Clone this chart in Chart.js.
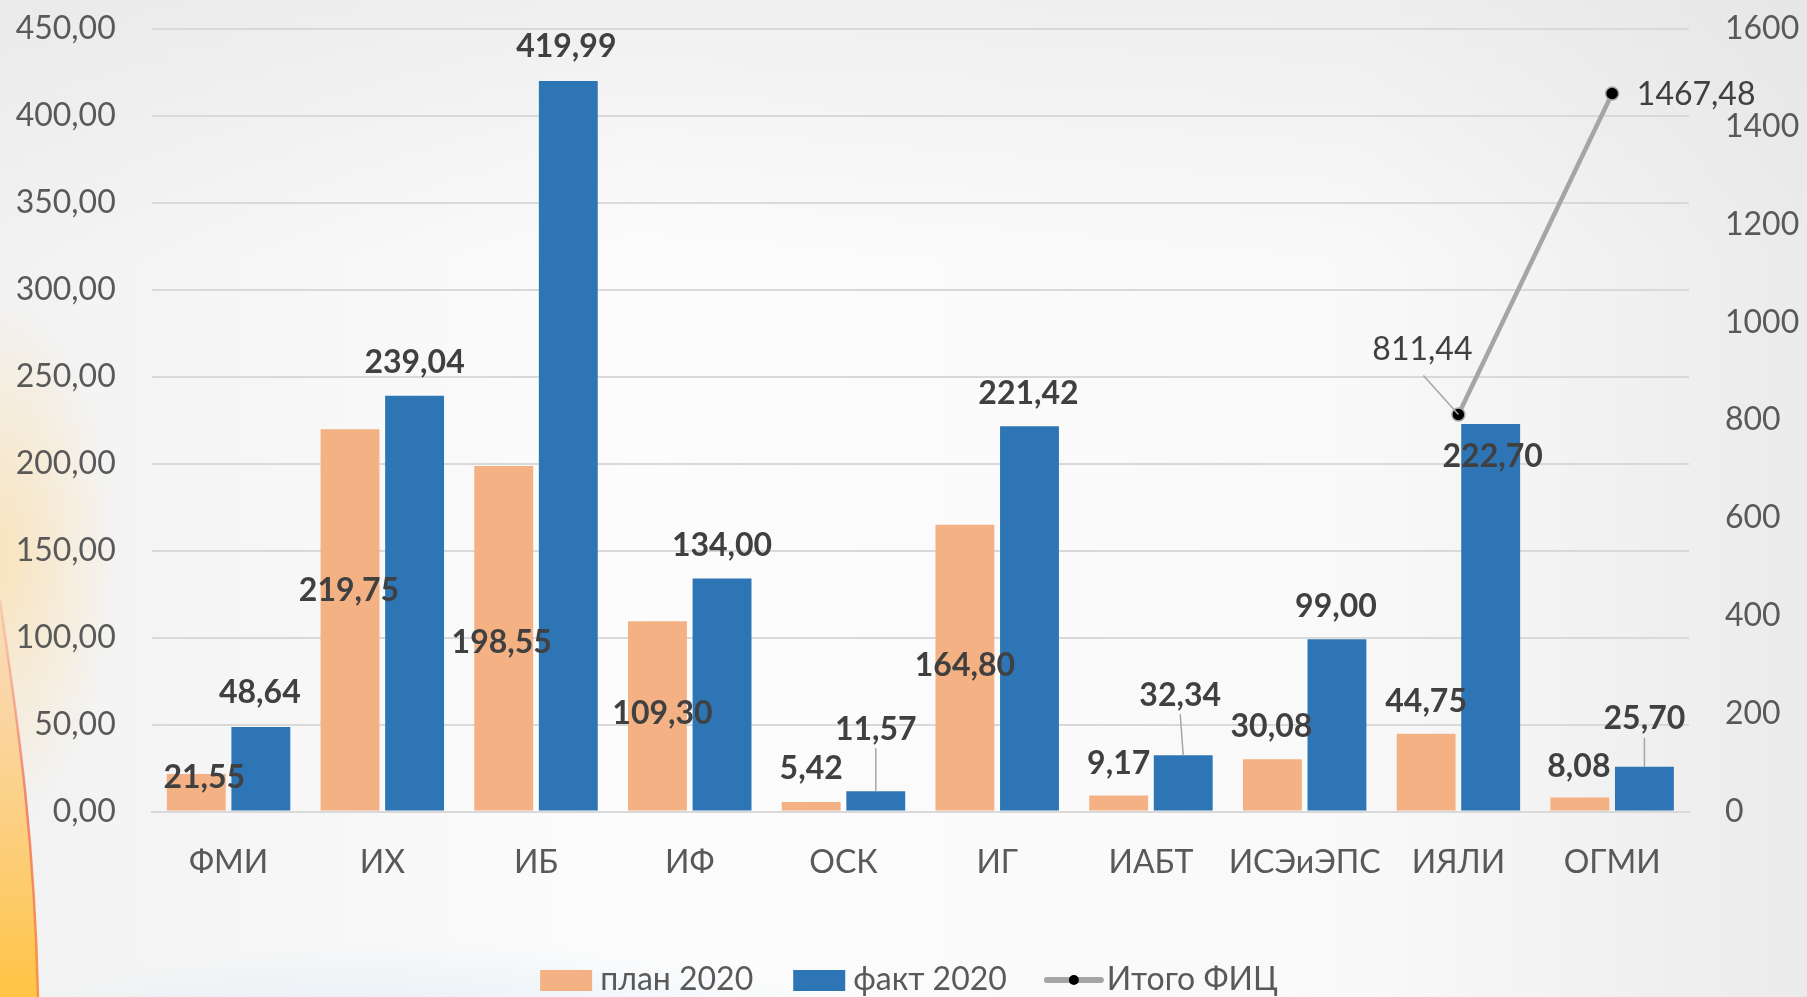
<!DOCTYPE html>
<html>
<head>
<meta charset="utf-8">
<script src="https://cdn.jsdelivr.net/npm/chart.js@4.4.0/dist/chart.umd.min.js"></script>
<style>
  html, body { margin: 0; padding: 0; background: #f7f7f7; }
  .wrap { width: 1807px; height: 997px; position: relative; }
</style>
</head>
<body>
<div class="wrap"><canvas id="finChart"></canvas></div>
<script>
const categories = ['ФМИ', 'ИХ', 'ИБ', 'ИФ', 'ОСК', 'ИГ', 'ИАБТ', 'ИСЭиЭПС', 'ИЯЛИ', 'ОГМИ'];
const plan2020 = [21.55, 219.75, 198.55, 109.30, 5.42, 164.80, 9.17, 30.08, 44.75, 8.08];
const fact2020 = [48.64, 239.04, 419.99, 134.00, 11.57, 221.42, 32.34, 99.00, 222.70, 25.70];
const totalFic = [null, null, null, null, null, null, null, null, 811.44, 1467.48];
const leftAxisTicks = [0, 50, 100, 150, 200, 250, 300, 350, 400, 450];
const rightAxisTicks = [0, 200, 400, 600, 800, 1000, 1200, 1400, 1600];

// where each value label sits, relative to the top of its bar / point (px)
const planLabelShift = [[8, 4], [-1, 161], [-2, 177], [5, 92], [0, -33], [0, 141], [0, -32], [-1, -32], [0, -32], [-1, -31]];
const factLabelShift = [[-1, -34], [0, -33], [-2, -34], [0, -33], [0, -62], [-1, -33], [-3, -60], [-1, -33], [2, 33], [0, -48]];
const totalLabelShift = [null, null, null, null, null, null, null, null, [-36, -65], [84, 1]];

const FONT = 'Lato';
const AXIS_GRAY = '#595959';
const LABEL_DARK = '#404040';
const GRID = '#d9d9d9';

const fmt2 = v => v.toFixed(2).replace('.', ',');

// soft slide-style backdrop with the warm swoosh on the left
const backdrop = {
  id: 'backdrop',
  beforeDraw(chart) {
    const { ctx, width: w, height: h } = chart;
    ctx.save();
    let g = ctx.createLinearGradient(0, 0, w, 0);
    g.addColorStop(0, '#f2f2f2');
    g.addColorStop(0.35, '#fcfcfc');
    g.addColorStop(0.75, '#f9f9f9');
    g.addColorStop(1, '#ebebeb');
    ctx.fillStyle = g;
    ctx.fillRect(0, 0, w, h);

    g = ctx.createLinearGradient(0, 0, 0, 260);
    g.addColorStop(0, 'rgba(225,225,225,0.45)');
    g.addColorStop(1, 'rgba(225,225,225,0)');
    ctx.fillStyle = g;
    ctx.fillRect(0, 0, w, 260);

    ctx.save();
    ctx.translate(0, 560);
    ctx.scale(0.45, 1);
    g = ctx.createRadialGradient(0, 0, 10, 0, 0, 260);
    g.addColorStop(0, 'rgba(255,215,140,0.5)');
    g.addColorStop(1, 'rgba(255,215,140,0)');
    ctx.fillStyle = g;
    ctx.fillRect(0, -300, 600, 600);
    ctx.restore();

    ctx.save();
    ctx.translate(430, 1060);
    ctx.scale(1, 0.25);
    g = ctx.createRadialGradient(0, 0, 20, 0, 0, 480);
    g.addColorStop(0, 'rgba(200,225,245,0.5)');
    g.addColorStop(1, 'rgba(200,225,245,0)');
    ctx.fillStyle = g;
    ctx.fillRect(-500, -500, 1000, 1000);
    ctx.restore();

    ctx.beginPath();
    ctx.moveTo(0, 600);
    ctx.bezierCurveTo(14, 700, 34, 820, 38, h);
    ctx.lineTo(0, h);
    ctx.closePath();
    g = ctx.createLinearGradient(0, 600, 0, h);
    g.addColorStop(0, 'rgba(255,190,130,0.25)');
    g.addColorStop(0.45, 'rgba(255,200,110,0.75)');
    g.addColorStop(1, '#ffc444');
    ctx.fillStyle = g;
    ctx.fill();

    ctx.beginPath();
    ctx.moveTo(0, 600);
    ctx.bezierCurveTo(14, 700, 34, 820, 38, h);
    g = ctx.createLinearGradient(0, 600, 0, h);
    g.addColorStop(0, 'rgba(240,120,110,0.2)');
    g.addColorStop(0.5, 'rgba(240,110,90,0.8)');
    g.addColorStop(1, 'rgba(250,140,60,0.9)');
    ctx.strokeStyle = g;
    ctx.lineWidth = 2.5;
    ctx.stroke();
    ctx.restore();
  }
};

// value labels with thin leader lines for the ones pulled away
const valueLabels = {
  id: 'valueLabels',
  afterDatasetsDraw(chart) {
    const { ctx } = chart;
    ctx.save();
    ctx.textAlign = 'center';
    ctx.textBaseline = 'middle';
    chart.data.datasets.forEach((ds, di) => {
      const meta = chart.getDatasetMeta(di);
      const isLine = ds.type === 'line';
      meta.data.forEach((el, i) => {
        const v = ds.data[i];
        if (v == null) return;
        const [dx, dy] = ds.labelShift[i];
        const x = el.x + dx;
        const y = el.y + dy;
        if (dy < -45) {
          ctx.beginPath();
          ctx.moveTo(x + (isLine ? 1 : 0), y + (isLine ? 26 : 19));
          ctx.lineTo(el.x, el.y);
          ctx.strokeStyle = '#a6a6a6';
          ctx.lineWidth = 1.5;
          ctx.stroke();
        }
        ctx.font = (isLine ? '' : 'bold ') + '32px ' + FONT;
        ctx.fillStyle = LABEL_DARK;
        ctx.fillText(fmt2(v), x, y);
      });
    });
    ctx.restore();
  }
};

// legend under the plot, centred
const bottomLegend = {
  id: 'bottomLegend',
  afterDraw(chart) {
    const { ctx } = chart;
    const ds = chart.data.datasets;
    const items = [ds[1], ds[2], ds[0]];
    const y = 980;
    ctx.save();
    ctx.font = '32px ' + FONT;
    ctx.textBaseline = 'middle';
    const keyW = 54, keyGap = 6, itemGap = 40;
    const widths = items.map(d => keyW + keyGap + ctx.measureText(d.label).width);
    const total = widths.reduce((a, b) => a + b, 0) + itemGap * (items.length - 1);
    let x = 909 - total / 2;
    items.forEach((d, k) => {
      if (d.type === 'line') {
        ctx.beginPath();
        ctx.moveTo(x, y);
        ctx.lineTo(x + keyW, y);
        ctx.strokeStyle = d.borderColor;
        ctx.lineWidth = 6;
        ctx.lineCap = 'round';
        ctx.stroke();
        ctx.beginPath();
        ctx.arc(x + keyW / 2, y, 5, 0, Math.PI * 2);
        ctx.fillStyle = d.pointBackgroundColor;
        ctx.fill();
      } else {
        ctx.fillStyle = d.backgroundColor;
        ctx.fillRect(x, y - 10, keyW - 2, 21);
      }
      ctx.fillStyle = AXIS_GRAY;
      ctx.fillText(d.label, x + keyW + keyGap, y);
      x += widths[k] + itemGap;
    });
    ctx.restore();
  }
};

function build() {
  const ctx = document.getElementById('finChart').getContext('2d');
  new Chart(ctx, {
    data: {
      labels: categories,
      datasets: [
        {
          type: 'line',
          label: 'Итого ФИЦ',
          data: totalFic,
          yAxisID: 'y1',
          order: 0,
          borderColor: '#a5a5a5',
          borderWidth: 4.5,
          pointRadius: 6.5,
          pointBackgroundColor: '#000000',
          pointBorderColor: '#a5a5a5',
          pointBorderWidth: 1.5,
          labelShift: totalLabelShift,
        },
        {
          type: 'bar',
          label: 'план 2020',
          data: plan2020,
          yAxisID: 'y',
          order: 1,
          backgroundColor: '#f4b183',
          barPercentage: 0.912,
          categoryPercentage: 0.84,
          labelShift: planLabelShift,
        },
        {
          type: 'bar',
          label: 'факт 2020',
          data: fact2020,
          yAxisID: 'y',
          order: 1,
          backgroundColor: '#2e75b6',
          barPercentage: 0.912,
          categoryPercentage: 0.84,
          labelShift: factLabelShift,
        },
      ],
    },
    options: {
      responsive: true,
      maintainAspectRatio: false,
      animation: false,
      layout: { padding: { top: 28.7, left: 0, right: 0, bottom: 0 } },
      plugins: {
        legend: { display: false },
        tooltip: { enabled: false },
      },
      scales: {
        x: {
          grid: { display: false, drawTicks: false },
          border: { display: true, color: GRID, width: 2 },
          ticks: { font: { family: FONT, size: 32 }, color: AXIS_GRAY, padding: 32, maxRotation: 0, autoSkip: false },
          afterFit: s => { s.height = 185.5; },
        },
        y: {
          position: 'left',
          min: 0,
          max: 450,
          afterBuildTicks: s => { s.ticks = leftAxisTicks.map(v => ({ value: v })); },
          ticks: { callback: v => fmt2(v), font: { family: FONT, size: 32 }, color: AXIS_GRAY, padding: 0 },
          grid: { color: GRID, lineWidth: 2, drawTicks: true, tickLength: 36, tickColor: 'rgba(0,0,0,0)' },
          border: { display: false },
          afterFit: s => { s.width = 151.7; },
        },
        y1: {
          position: 'right',
          min: 0,
          max: 1600,
          afterBuildTicks: s => { s.ticks = rightAxisTicks.map(v => ({ value: v })); },
          ticks: { callback: v => String(v), font: { family: FONT, size: 32 }, color: AXIS_GRAY, padding: 0 },
          grid: { display: false, drawTicks: true, tickLength: 36, tickColor: 'rgba(0,0,0,0)' },
          border: { display: false },
          afterFit: s => { s.width = 118; },
        },
      },
    },
    plugins: [backdrop, valueLabels, bottomLegend],
  });
}

Promise.all([
  document.fonts.load('32px Lato'),
  document.fonts.load('bold 32px Lato'),
]).then(build, build);
</script>
</body>
</html>
